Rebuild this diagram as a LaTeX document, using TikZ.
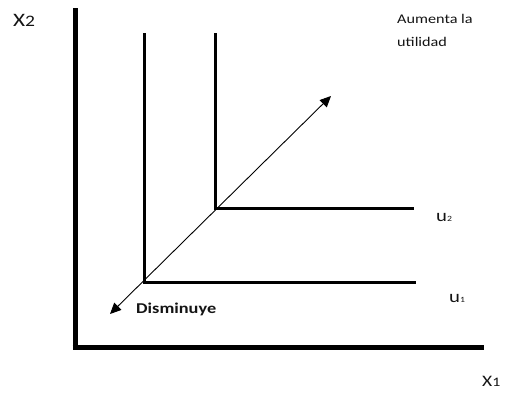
\documentclass[tikz,border=0pt]{standalone}
\usepackage{fontspec}
\setmainfont{Carlito}[FakeStretch=1.22]
\usetikzlibrary{arrows.meta}
\begin{document}
\begin{tikzpicture}[x=1pt,y=-1pt,
  axis/.style={line width=5pt,line cap=butt},
  curve/.style={line width=3pt},
  lbl/.style={inner sep=0pt,anchor=base west,text=black!92}]
\useasboundingbox (0,0) rectangle (508,394);
% axes
\coordinate (top) at (75,8);
\coordinate (origin) at (75,347);
\coordinate (right) at (484,347);
\draw[axis] (top) -- (75,349.5);
\draw[axis] (72.5,347) -- (right);
% indifference curves
\coordinate (c1) at (144,282);
\coordinate (c2) at (215,208);
\draw[curve] (144,33) -- (c1) -- (416,282);
\draw[curve] (215,33) -- (c2) -- (414,208);
% diagonal arrow
\coordinate (low) at (110,314);
\coordinate (high) at (331,96);
\draw[line width=0.9pt,{Triangle[length=11pt,width=10pt]}-{Triangle[length=11pt,width=10pt]}] (low) -- (high);
% labels
\node[lbl,font=\fontsize{19}{19}\selectfont] (x2) at (13,26) {X\fontsize{16}{16}\selectfont 2};
\node[lbl,font=\fontsize{16}{16}\selectfont] (x1) at (482,386) {X\fontsize{13}{13}\selectfont 1};
\node[lbl,font=\fontsize{13.3}{22.7}\selectfont,align=left,anchor=north west] (aum) at (397,14) {Aumenta la\\utilidad};
\node[lbl,font=\fontsize{17}{17}\selectfont] (u2) at (436,221) {u\fontsize{8}{8}\selectfont 2};
\node[lbl,font=\fontsize{17}{17}\selectfont] (u1) at (449,302) {u\fontsize{8}{8}\selectfont 1};
\node[lbl,font=\bfseries\fontsize{15}{15}\selectfont] (dis) at (136,313) {Disminuye};
\end{tikzpicture}
\end{document}
